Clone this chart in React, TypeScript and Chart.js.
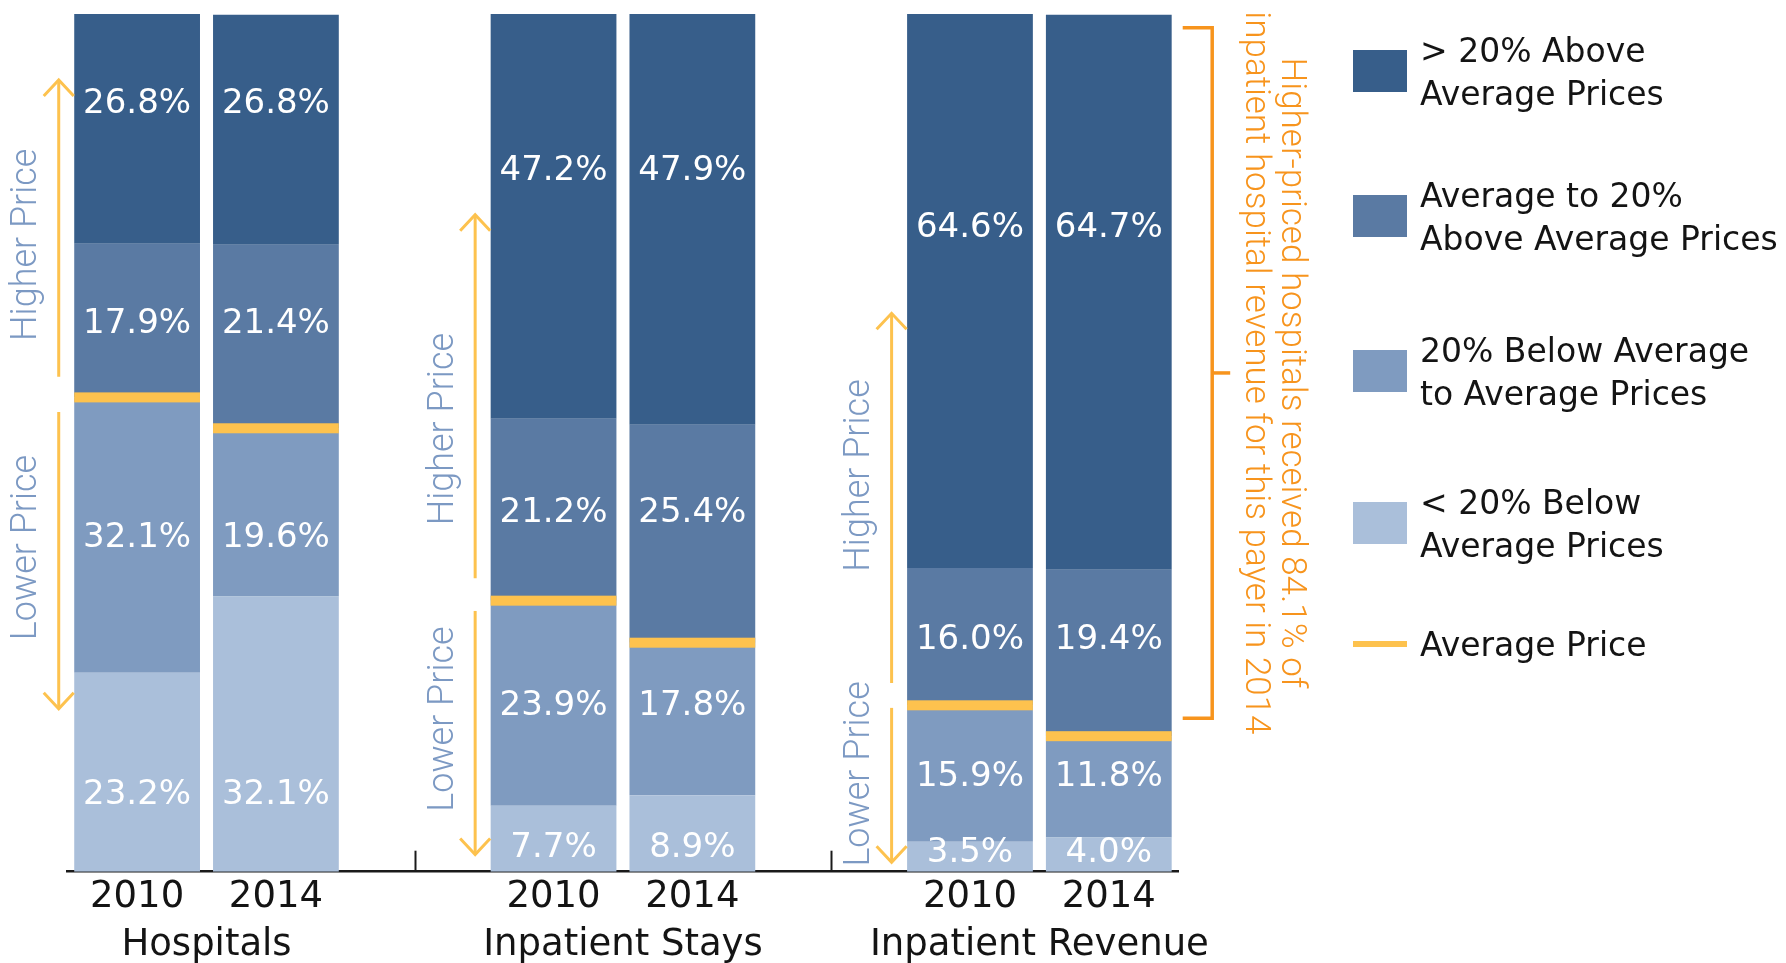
import React, { useEffect, useRef } from "react";
import { Chart, registerables } from "chart.js";

Chart.register(...registerables);

// ---------- data ----------
const groups = ["Hospitals", "Inpatient Stays", "Inpatient Revenue"];
const years = ["2010", "2014"];

// one value per (group, year): H2010, H2014, IS2010, IS2014, IR2010, IR2014
const belowMinus20 = [23.2, 32.1, 7.7, 8.9, 3.5, 4.0];
const below20ToAvg = [32.1, 19.6, 23.9, 17.8, 15.9, 11.8];
const avgTo20Above = [17.9, 21.4, 21.2, 25.4, 16.0, 19.4];
const above20 = [26.8, 26.8, 47.2, 47.9, 64.6, 64.7];

const seriesNames = [
  "< 20% Below\nAverage Prices",
  "20% Below Average\nto Average Prices",
  "Average to 20%\nAbove Average Prices",
  "> 20% Above\nAverage Prices",
];
const avgName = "Average Price";
const higherText = "Higher Price";
const lowerText = "Lower Price";
const noteLines = [
  "Higher-priced hospitals received 84.1% of",
  "inpatient hospital revenue for this payer in 2014",
];

// annotation layout (value units on the 0-100 axis), per group
const arrowUpTo = [92.3, 76.6, 65.1];
const arrowDownTo = [19.0, 2.0, 1.1];
const arrowGapUp = [2.4, 2.6, 2.6];
const arrowGapDown = [1.7, 1.2, 0.3];
const higherTextAt = [73.1, 51.6, 46.2];
const lowerTextAt = [37.8, 17.8, 11.4];
const bracketTop = 98.4;
const bracketBottom = 17.9;

// ---------- style ----------
const WIDE = '"DejaVu Sans", sans-serif';
const NARROW = "Roboto, sans-serif";
const COLORS = ["#AABFDA", "#7F9BC0", "#5A7AA3", "#375E8A"];
const AVG_COLOR = "#FDC24E";
const NOTE_COLOR = "#F7941D";
const HINT_COLOR = "#7C99C3";
const TEXT_COLOR = "#141414";
const legendCenters = [71, 216, 371, 523, 644];
const GLYPH_SHIFT = 3.3; // DejaVu: visual centre sits below the em middle

const series = [belowMinus20, below20ToAvg, avgTo20Above, above20];

const slotLabels: string[] = [];
const slotIndex: (number | null)[] = [];
groups.forEach((_, gi) => {
  years.forEach((y, yi) => {
    slotLabels.push(y);
    slotIndex.push(gi * years.length + yi);
  });
  if (gi < groups.length - 1) {
    slotLabels.push("");
    slotIndex.push(null);
  }
});

function barGeom(chart: any, slot: number) {
  const el = chart.getDatasetMeta(0).data[slot];
  const p = el.getProps(["x", "width"], true);
  return { x: p.x, w: p.width };
}

const overlay = {
  id: "overlay",
  afterDatasetsDraw(chart: any) {
    const ctx = chart.ctx;
    const ys = chart.scales.y;
    const bottom = chart.chartArea.bottom;
    ctx.save();
    // average price lines
    slotIndex.forEach((di, s) => {
      if (di === null) return;
      const { x, w } = barGeom(chart, s);
      const y = ys.getPixelForValue(belowMinus20[di] + below20ToAvg[di]);
      ctx.fillStyle = AVG_COLOR;
      ctx.fillRect(x - w / 2, y - 5, w, 10);
    });
    // value labels (rows aligned to the first bar of each group)
    ctx.fillStyle = "#ffffff";
    ctx.font = `34px ${WIDE}`;
    ctx.textAlign = "center";
    ctx.textBaseline = "middle";
    slotIndex.forEach((di, s) => {
      if (di === null) return;
      const ref = Math.floor(di / years.length) * years.length;
      const { x } = barGeom(chart, s);
      let start = 0;
      series.forEach((arr, si) => {
        const v = arr[ref];
        let pos: number;
        if (si === series.length - 1) pos = start + v - 0.38 * v;
        else if (si === 0) pos = 0.4 * v;
        else pos = start + v / 2;
        start += v;
        let y = ys.getPixelForValue(pos);
        if (si === 0) y = Math.min(y, bottom - 22);
        ctx.fillText(arr[di].toFixed(1) + "%", x, y + GLYPH_SHIFT);
      });
    });
    ctx.restore();
  },
  afterDraw(chart: any) {
    const ctx = chart.ctx;
    const xs = chart.scales.x;
    const ys = chart.scales.y;
    const bottom = chart.chartArea.bottom;
    ctx.save();

    // tick marks at gaps
    ctx.strokeStyle = "#1a1a1a";
    ctx.lineWidth = 2;
    slotIndex.forEach((di, s) => {
      if (di !== null) return;
      const x = Math.round(xs.getPixelForValue(s)) + 0.5;
      ctx.beginPath();
      ctx.moveTo(x, bottom - 21);
      ctx.lineTo(x, bottom);
      ctx.stroke();
    });

    // group labels
    ctx.fillStyle = TEXT_COLOR;
    ctx.font = `37px ${WIDE}`;
    ctx.textAlign = "center";
    ctx.textBaseline = "alphabetic";
    groups.forEach((g, gi) => {
      const slots: number[] = [];
      slotIndex.forEach((di, s) => {
        if (di !== null && Math.floor(di / years.length) === gi) slots.push(s);
      });
      const cx = slots.reduce((a, s) => a + barGeom(chart, s).x, 0) / slots.length;
      ctx.fillText(g, cx, bottom + 83);
    });

    // arrows + rotated hints
    groups.forEach((_, gi) => {
      const ref = gi * years.length;
      const s0 = slotIndex.indexOf(ref);
      const { x, w } = barGeom(chart, s0);
      const left = x - w / 2;
      const ax = left - 15.5;
      const avg = belowMinus20[ref] + below20ToAvg[ref];
      ctx.strokeStyle = AVG_COLOR;
      ctx.lineWidth = 3;
      ctx.lineJoin = "miter";
      // up arrow
      const upStart = ys.getPixelForValue(avg + arrowGapUp[gi]);
      const upTip = ys.getPixelForValue(arrowUpTo[gi]);
      ctx.beginPath();
      ctx.moveTo(ax, upStart);
      ctx.lineTo(ax, upTip + 1);
      ctx.stroke();
      ctx.beginPath();
      ctx.moveTo(ax - 15, upTip + 16);
      ctx.lineTo(ax, upTip);
      ctx.lineTo(ax + 15, upTip + 16);
      ctx.stroke();
      // down arrow
      const dnStart = ys.getPixelForValue(avg - arrowGapDown[gi]);
      const dnTip = ys.getPixelForValue(arrowDownTo[gi]);
      ctx.beginPath();
      ctx.moveTo(ax, dnStart);
      ctx.lineTo(ax, dnTip - 1);
      ctx.stroke();
      ctx.beginPath();
      ctx.moveTo(ax - 15, dnTip - 16);
      ctx.lineTo(ax, dnTip);
      ctx.lineTo(ax + 15, dnTip - 16);
      ctx.stroke();

      // rotated texts
      ctx.fillStyle = HINT_COLOR;
      ctx.font = `300 36px ${NARROW}`;
      ctx.textAlign = "center";
      ctx.textBaseline = "middle";
      const tx = left - 47;
      [[higherText, higherTextAt[gi]], [lowerText, lowerTextAt[gi]]].forEach(([t, v]) => {
        ctx.save();
        ctx.translate(tx, ys.getPixelForValue(v as number));
        ctx.rotate(-Math.PI / 2);
        ctx.fillText(t as string, 0, 0);
        ctx.restore();
      });
    });

    // bracket
    const xr = xs.right;
    const bt = ys.getPixelForValue(bracketTop);
    const bb = ys.getPixelForValue(bracketBottom);
    const bm = (bt + bb) / 2;
    const vx = xr + 34;
    ctx.strokeStyle = NOTE_COLOR;
    ctx.lineWidth = 3.5;
    ctx.lineJoin = "miter";
    ctx.beginPath();
    ctx.moveTo(xr + 4.5, bt);
    ctx.lineTo(vx, bt);
    ctx.lineTo(vx, bb);
    ctx.lineTo(xr + 4.5, bb);
    ctx.stroke();
    ctx.beginPath();
    ctx.moveTo(vx, bm);
    ctx.lineTo(vx + 18, bm);
    ctx.stroke();

    // note text (rotated clockwise)
    ctx.fillStyle = NOTE_COLOR;
    ctx.font = `300 35px ${NARROW}`;
    ctx.textAlign = "center";
    ctx.textBaseline = "alphabetic";
    const baseX = [vx + 69.5, vx + 34];
    noteLines.forEach((line, i) => {
      ctx.save();
      ctx.translate(baseX[i], bm);
      ctx.rotate(Math.PI / 2);
      ctx.fillText(line, 0, 0);
      ctx.restore();
    });

    // legend
    const lx = 1353;
    const tx = 1420;
    ctx.font = `33px ${WIDE}`;
    ctx.textAlign = "left";
    ctx.textBaseline = "middle";
    const items = series.map((_, si) => series.length - 1 - si);
    items.forEach((si, k) => {
      const c = legendCenters[k];
      ctx.fillStyle = COLORS[si];
      ctx.fillRect(lx, c - 21, 54, 42);
      ctx.fillStyle = TEXT_COLOR;
      const lines = seriesNames[si].split("\n");
      lines.forEach((ln, li) => {
        ctx.fillText(ln, tx, c + 4 + (li - (lines.length - 1) / 2) * 43.5);
      });
    });
    const cl = legendCenters[series.length];
    ctx.fillStyle = AVG_COLOR;
    ctx.fillRect(lx, cl - 3, 54, 6);
    ctx.fillStyle = TEXT_COLOR;
    ctx.fillText(avgName, tx, cl + 3);

    ctx.restore();
  },
};

export default function App() {
  const ref = useRef<HTMLCanvasElement | null>(null);
  useEffect(() => {
    if (!ref.current) return;
    const chart = new Chart(ref.current, {
      type: "bar",
      data: {
        labels: slotLabels,
        datasets: series.map((arr, si) => ({
          label: seriesNames[si],
          data: slotIndex.map((i) => (i === null ? null : arr[i])),
          backgroundColor: COLORS[si],
          borderWidth: 0,
          barPercentage: 0.906,
          categoryPercentage: 1,
        })),
      },
      options: {
        responsive: false,
        animation: false,
        events: [],
        layout: { padding: { left: 67.7, right: 607.8, top: 14, bottom: 39.9 } },
        plugins: { legend: { display: false }, tooltip: { enabled: false } },
        scales: {
          x: {
            stacked: true,
            grid: { display: false, drawTicks: false },
            border: { display: true, color: "#1a1a1a", width: 2.5 },
            ticks: {
              autoSkip: false,
              maxRotation: 0,
              minRotation: 0,
              padding: 3.5,
              color: TEXT_COLOR,
              font: { family: WIDE, size: 37 },
            },
          },
          y: { stacked: true, display: false, min: 0, max: 100 },
        },
      },
      plugins: [overlay],
    });
    return () => chart.destroy();
  }, []);
  return (
    <div style={{ position: "fixed", left: 0, top: 0, width: 1786, height: 963, background: "#fff" }}>
      <canvas ref={ref} width={1786} height={963} style={{ display: "block" }} />
    </div>
  );
}
